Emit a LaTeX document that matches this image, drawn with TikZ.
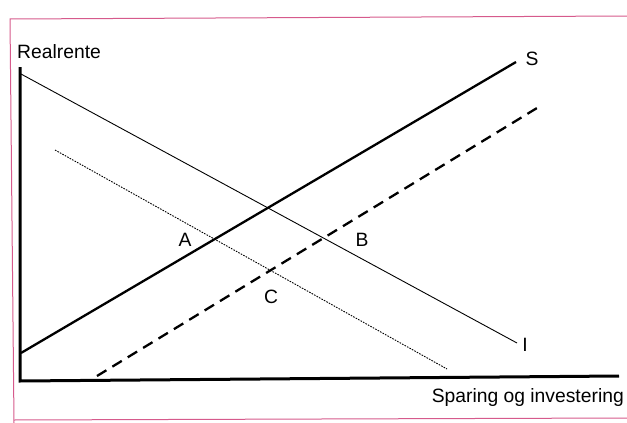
\documentclass[tikz,border=0pt]{standalone}
\usepackage{fontspec}
\setmainfont{Liberation Sans}
\begin{document}
\begin{tikzpicture}[x=1pt,y=-1pt,
  lbl/.style={inner sep=0pt,font=\fontsize{19.3}{22}\selectfont},
  axisline/.style={line width=3pt},
  sline/.style={line width=2.3pt},
  iline/.style={line width=0.9pt},
  shiftline/.style={line width=2.3pt,dash pattern=on 11pt off 7pt},
  dotline/.style={line width=0.9pt,dash pattern=on 1.6pt off 1.2pt},
  framecol/.style={draw={rgb,255:red,214;green,90;blue,140},line width=1pt}]
\useasboundingbox (0,0) rectangle (627,423);
% frame
\draw[framecol] (14,423) -- (10,19) -- (627,16);
\draw[framecol] (14,420) -- (627,418);
% axes
\coordinate (top) at (20,67);
\coordinate (orig) at (20,381);
\coordinate (xend) at (619,376);
\draw[axisline] (top) -- (orig) -- (xend);
% curves
\coordinate (I0) at (21,74);
\coordinate (I1) at (517,343);
\coordinate (S0) at (21,353);
\coordinate (S1) at (516,62);
\coordinate (D0) at (97,376);
\coordinate (D1) at (537,108);
\coordinate (T0) at (55,150);
\coordinate (T1) at (447,369);
\draw[iline] (I0) -- (I1);
\draw[sline] (S0) -- (S1);
\draw[shiftline] (D0) -- (D1);
\draw[dotline] (T0) -- (T1);
% labels
\node[lbl,anchor=west] (yl) at (17,52) {Realrente};
\node[lbl,anchor=east] (xl) at (624,398) {Sparing og investering};
\node[lbl] (Sl) at (532,59) {S};
\node[lbl] (Il) at (525,345) {I};
\node[lbl] (A) at (185,240) {A};
\node[lbl] (B) at (362,240) {B};
\node[lbl] (C) at (271,297) {C};
\end{tikzpicture}
\end{document}
